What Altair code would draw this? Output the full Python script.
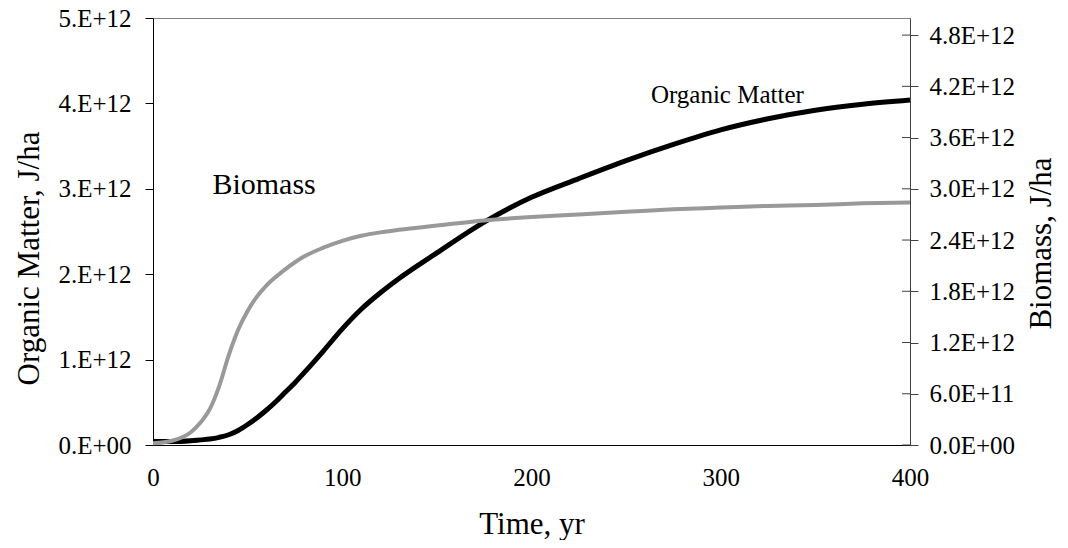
import altair as alt
import pandas as pd

time_yr = [0, 10, 20, 25, 30, 35, 40, 45, 50, 55, 60, 65, 70, 75, 80, 90, 100,
           110, 120, 130, 150, 175, 200, 225, 250, 275, 300, 325, 350, 375, 400]
organic_e12 = [0.04, 0.04, 0.05, 0.06, 0.07, 0.09, 0.12, 0.17, 0.24, 0.32, 0.41,
               0.51, 0.62, 0.73, 0.85, 1.10, 1.36, 1.59, 1.78, 1.95, 2.25, 2.61,
               2.90, 3.12, 3.33, 3.52, 3.69, 3.82, 3.92, 3.99, 4.04]
biomass_e12 = [0.02, 0.05, 0.15, 0.26, 0.42, 0.69, 1.05, 1.35, 1.57, 1.74, 1.87,
               1.97, 2.06, 2.14, 2.21, 2.31, 2.39, 2.45, 2.49, 2.52, 2.57, 2.63,
               2.67, 2.70, 2.73, 2.76, 2.78, 2.80, 2.81, 2.83, 2.84]

x_ticks = [0, 100, 200, 300, 400]
left_ticks = [0, 1e12, 2e12, 3e12, 4e12, 5e12]
right_ticks = [0, 6e11, 1.2e12, 1.8e12, 2.4e12, 3.0e12, 3.6e12, 4.2e12, 4.8e12]

label_text = ["Biomass", "Organic Matter"]
label_t = [58.7, 303.5]
label_v = [3.05e12, 4.10e12]

FONT = "Liberation Serif"
Y_DOMAIN = [0, 5e12]

df = pd.DataFrame({
    "t": time_yr,
    "om": [v * 1e12 for v in organic_e12],
    "bm": [v * 1e12 for v in biomass_e12],
})
labels = pd.DataFrame({"text": label_text, "t": label_t, "v": label_v})
rticks = pd.DataFrame({"v": right_ticks})

x_enc = alt.X(
    "t:Q",
    scale=alt.Scale(domain=[0, 400], nice=False),
    axis=alt.Axis(values=x_ticks, ticks=False, tickSize=0, labelPadding=20,
                  title="Time, yr", titleBaseline="alphabetic", titleY=88,
                  grid=False, domainColor="black", labelFlush=False,
                  labelOverlap=False),
)

om_line = alt.Chart(df).mark_line(color="black", strokeWidth=5, interpolate="monotone").encode(
    x=x_enc,
    y=alt.Y(
        "om:Q",
        scale=alt.Scale(domain=Y_DOMAIN, nice=False),
        axis=alt.Axis(
            orient="left", values=left_ticks, grid=False,
            labelExpr="datum.value == 0 ? '0.E+00' : replace(format(datum.value, '.0e'), 'e', '.E')",
            tickSize=8, labelPadding=14, labelOverlap=False, labelFlush=False,
            domainColor="black", tickColor="black",
            title="Organic Matter, J/ha", titleAngle=270, titleBaseline="alphabetic",
            titleAlign="center", titleX=-115, titleY=240,
        ),
    ),
)

bm_line = alt.Chart(df).mark_line(color="#999999", strokeWidth=4, interpolate="monotone").encode(
    x=alt.X("t:Q"),
    y=alt.Y(
        "bm:Q",
        scale=alt.Scale(domain=Y_DOMAIN, nice=False),
        axis=alt.Axis(
            orient="right", values=right_ticks, grid=False,
            labelExpr="datum.value == 0 ? '0.0E+00' : replace(format(datum.value, '.1e'), 'e', 'E')",
            tickSize=8, labelPadding=11, labelOverlap=False, labelFlush=False,
            domainColor="#404040", tickColor="#404040",
            title="Biomass, J/ha", titleAngle=270, titleBaseline="alphabetic",
            titleAlign="center", titleX=140, titleY=225,
        ),
    ),
)

inner_ticks = alt.Chart(rticks).mark_rule(color="#404040", strokeWidth=1).encode(
    y=alt.Y("v:Q", scale=alt.Scale(domain=Y_DOMAIN, nice=False), axis=None),
    x=alt.value(749),
    x2=alt.value(757),
)

bio_label = alt.Chart(labels).transform_filter("datum.text == 'Biomass'").mark_text(
    font=FONT, fontSize=30, color="black", align="center", baseline="middle"
).encode(
    x=alt.X("t:Q"),
    y=alt.Y("v:Q", scale=alt.Scale(domain=Y_DOMAIN, nice=False), axis=None),
    text="text:N",
)

om_label = alt.Chart(labels).transform_filter("datum.text == 'Organic Matter'").mark_text(
    font=FONT, fontSize=25, color="black", align="center", baseline="middle"
).encode(
    x=alt.X("t:Q"),
    y=alt.Y("v:Q", scale=alt.Scale(domain=Y_DOMAIN, nice=False), axis=None),
    text="text:N",
)

chart = alt.layer(om_line, bm_line, inner_ticks, bio_label, om_label).resolve_scale(
    y="independent"
).properties(
    width=757,
    height=427,
    background="white",
    autosize=alt.AutoSizeParams(type="none"),
    padding={"left": 145, "top": 10, "right": 150, "bottom": 95},
).configure_view(
    stroke="#808080", strokeWidth=1
).configure_axis(
    labelFont=FONT, titleFont=FONT, labelFontSize=25, titleFontSize=31,
    labelColor="black", titleColor="black", titleFontWeight="normal",
)

chart.save("out.html", embed_options={"renderer": "svg", "actions": False})
